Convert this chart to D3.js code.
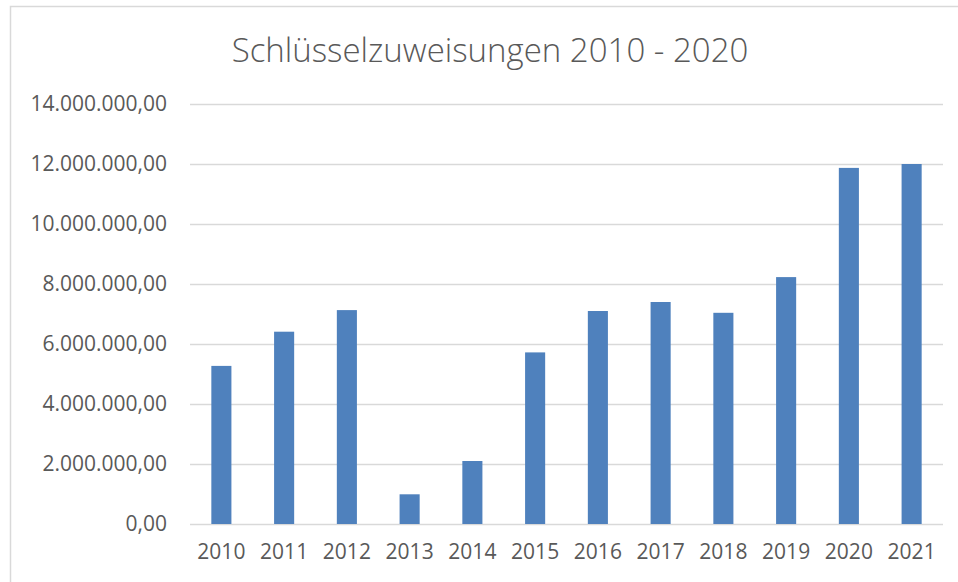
<!DOCTYPE html>
<html>
<head>
<meta charset="utf-8">
<script src="https://cdn.jsdelivr.net/npm/d3@7"></script>
<style>
  html, body { margin: 0; padding: 0; background: #fff; }
  svg text { font-family: "Open Sans", sans-serif; fill: #595959; }
</style>
</head>
<body>
<script>
const years = ["2010", "2011", "2012", "2013", "2014", "2015", "2016", "2017", "2018", "2019", "2020", "2021"];
const values = [5270000, 6410000, 7130000, 990000, 2100000, 5720000, 7100000, 7400000, 7040000, 8230000, 11870000, 12000000];
const yTicks = [0, 2000000, 4000000, 6000000, 8000000, 10000000, 12000000, 14000000];
const title = "Schlüsselzuweisungen 2010 - 2020";

const W = 958, H = 582;
const margin = {top: 104, right: 15, bottom: 58, left: 190};
const width = W - margin.left - margin.right,
  height = H - margin.top - margin.bottom;

const svg = d3.select("body")
  .append("svg")
  .attr("width", W)
  .attr("height", H);

// chart frame (only top and left edges visible in the crop)
svg.append("path")
  .attr("d", `M10.5,${H} V6.5 H${W}`)
  .attr("fill", "none")
  .attr("stroke", "#d9d9d9")
  .attr("stroke-width", 1.5);

svg.append("text")
  .attr("x", 490)
  .attr("y", 62)
  .attr("text-anchor", "middle")
  .style("font-size", "33px")
  .style("font-weight", 300)
  .text(title);

const g = svg.append("g")
  .attr("transform", `translate(${margin.left},${margin.top})`);

const x = d3.scaleBand()
  .domain(years)
  .range([0, width])
  .paddingInner(0.68)
  .paddingOuter(0.34);

const y = d3.scaleLinear()
  .domain([0, 14000000])
  .range([height, 0]);

const fmt = v => d3.formatLocale({decimal: ",", thousands: ".", grouping: [3], currency: ["", "€"]}).format(",.2f")(v);

// gridlines + y labels
const yAxis = g.append("g")
  .call(d3.axisLeft(y).tickValues(yTicks).tickSize(-width).tickPadding(23).tickFormat(fmt));
yAxis.select(".domain").remove();
yAxis.selectAll(".tick line").attr("stroke", "#d9d9d9").attr("stroke-width", 1.3);
yAxis.selectAll(".tick text").style("font-size", "21px").attr("fill", "#595959");

// bars
g.selectAll(".bar")
  .data(values)
  .join("rect")
  .attr("class", "bar")
  .attr("x", (d, i) => x(years[i]))
  .attr("y", d => y(d))
  .attr("width", x.bandwidth())
  .attr("height", d => height - y(d))
  .attr("fill", "#4f81bd");

// x axis labels
const xAxis = g.append("g")
  .attr("transform", `translate(0,${height})`)
  .call(d3.axisBottom(x).tickSize(0).tickPadding(20));
xAxis.select(".domain").remove();
xAxis.selectAll(".tick text").style("font-size", "21px").attr("fill", "#595959");
</script>
</body>
</html>
